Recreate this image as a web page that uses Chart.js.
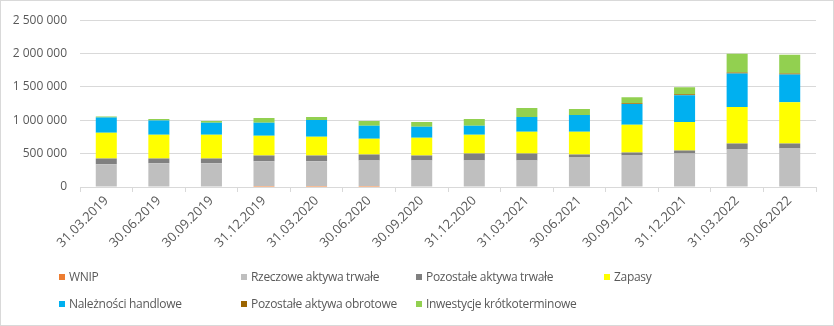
<!DOCTYPE html>
<html lang="pl">
<head>
    <meta charset="UTF-8">
    <title>Aktywa</title>
    <script src="https://cdn.jsdelivr.net/npm/chart.js@4.4.0/dist/chart.umd.min.js"></script>
    <style>
        body { margin: 0; background: #fff; }
        .wrap { position: relative; width: 834px; height: 326px; }
        .ramka { position: absolute; left: 0; top: 0; width: 834px; height: 326px; box-sizing: border-box; border: 1px solid #d9d9d9; pointer-events: none; }
        canvas { position: absolute; left: 0; top: 0; }
        .leg { position: absolute; font-family: "Open Sans", sans-serif; font-size: 12px; letter-spacing: -0.3px; color: #595959; white-space: nowrap; line-height: 16px; }
        .leg i { display: inline-block; width: 6px; height: 6px; margin-right: 4px; vertical-align: 1px; }
    </style>
</head>
<body>
<div class="wrap">
    <canvas id="wykres" width="834" height="326"></canvas>
    <div id="legenda"></div>
    <div class="ramka"></div>
</div>

<script>
// dane
const okresy = ['31.03.2019','30.06.2019','30.09.2019','31.12.2019','31.03.2020','30.06.2020','30.09.2020',
    '31.12.2020','31.03.2021','30.06.2021','30.09.2021','31.12.2021','31.03.2022','30.06.2022']

const wnip        = [0, 0, 0, 15000, 15000, 15000, 0, 0, 0, 0, 0, 0, 0, 0]
const rzeczowe    = [340000, 355000, 355000, 370000, 370000, 384000, 399000, 399000, 399000, 444000, 473000, 503000, 562000, 577000]
const pozTrwale   = [89000, 74000, 74000, 88000, 88000, 89000, 74000, 104000, 104000, 44000, 45000, 44000, 89000, 74000]
const zapasy      = [385000, 355000, 355000, 296000, 281000, 237000, 267000, 281000, 325000, 340000, 414000, 429000, 547000, 621000]
const naleznosci  = [226000, 212000, 178000, 193000, 252000, 192000, 162000, 133000, 222000, 252000, 311000, 400000, 503000, 414000]
const pozObrotowe = [0, 0, 0, 0, 0, 0, 0, 0, 0, 0, 14000, 15000, 15000, 15000]
const inwestycje  = [15000, 25000, 29000, 73000, 44000, 74000, 74000, 104000, 133000, 89000, 89000, 103000, 281000, 281000]

const yTicks = [0, 500000, 1000000, 1500000, 2000000, 2500000]

const serie = [
    { label: 'WNIP', data: wnip, color: '#ED7D31' },
    { label: 'Rzeczowe aktywa trwałe', data: rzeczowe, color: '#BFBFBF' },
    { label: 'Pozostałe aktywa trwałe', data: pozTrwale, color: '#808080' },
    { label: 'Zapasy', data: zapasy, color: '#FFFF00' },
    { label: 'Należności handlowe', data: naleznosci, color: '#00B0F0' },
    { label: 'Pozostałe aktywa obrotowe', data: pozObrotowe, color: '#9C6500' },
    { label: 'Inwestycje krótkoterminowe', data: inwestycje, color: '#92D050' }
]

// pozycje legendy (jak w Excelu, dwa wiersze)
const legendaPoz = [[59, 269], [241, 269], [416, 269], [604, 269], [59, 296], [241, 296], [416, 296]]

function format(v) {
    return String(v).replace(/\B(?=(\d{3})+(?!\d))/g, ' ')
}

const font = { family: 'Open Sans', size: 12 }

new Chart(document.getElementById('wykres'), {
    type: 'bar',
    data: {
        labels: okresy,
        datasets: serie.map(s => ({
            label: s.label,
            data: s.data,
            backgroundColor: s.color,
            borderWidth: 0,
            categoryPercentage: 1,
            barPercentage: 0.4
        }))
    },
    options: {
        responsive: false,
        animation: false,
        devicePixelRatio: 1,
        layout: { padding: { top: 14, right: 18, left: 0, bottom: 0 } },
        plugins: { legend: { display: false }, tooltip: { enabled: false } },
        scales: {
            x: {
                stacked: true,
                grid: { offset: true, drawOnChartArea: false, tickLength: 5, color: '#d9d9d9' },
                border: { color: '#d9d9d9' },
                ticks: { minRotation: 45, maxRotation: 45, color: '#595959', font: { family: 'Open Sans', size: 13 }, padding: 1 },
                afterFit: s => { s.height = 139 }
            },
            y: {
                stacked: true,
                min: 0,
                max: 2500000,
                afterBuildTicks: s => { s.ticks = yTicks.map(v => ({ value: v })) },
                grid: { color: '#d9d9d9', drawTicks: false },
                border: { display: false },
                ticks: { color: '#595959', font: font, padding: 13, callback: v => format(v) },
                afterFit: s => { s.width = 80 }
            }
        }
    }
})

// legenda HTML
let leg = document.getElementById('legenda')
serie.forEach((s, i) => {
    let d = document.createElement('div')
    d.className = 'leg'
    d.style.left = legendaPoz[i][0] + 'px'
    d.style.top = legendaPoz[i][1] + 'px'
    d.innerHTML = '<i style="background:' + s.color + '"></i>' + s.label
    leg.appendChild(d)
})
</script>
</body>
</html>
